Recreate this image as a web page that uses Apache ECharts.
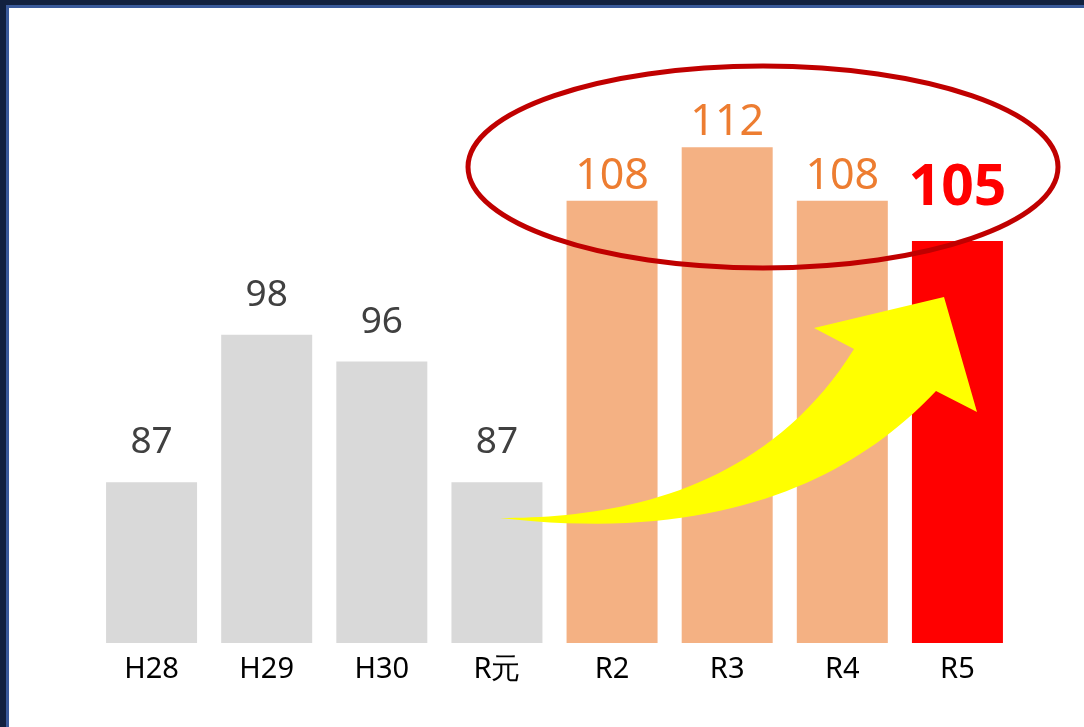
<!DOCTYPE html>
<html>
<head>
<meta charset="utf-8">
<script src="https://cdn.jsdelivr.net/npm/echarts@6/dist/echarts.min.js"></script>
<style>
html,body{margin:0;padding:0;background:#fff;}
#c{width:1084px;height:727px;}
</style>
</head>
<body>
<div id="c"></div>
<script>
const categories = ['H28','H29','H30','R元','R2','R3','R4','R5'];
const values = [87, 98, 96, 87, 108, 112, 108, 105];
const groups = ['past','past','past','past','recent','recent','recent','current'];

const groupStyle = {
  past:    {color:'#d9d9d9', label:{color:'#404040', fontSize:37, fontWeight:'normal', distance:21}},
  recent:  {color:'#f4b183', label:{color:'#ed7d31', fontSize:43, fontWeight:'normal', distance:3}},
  current: {color:'#ff0000', label:{color:'#ff0000', fontSize:57, fontWeight:'bold', distance:24}}
};

const FONT = '"Noto Sans", "DejaVu Sans", sans-serif';
const data = values.map((v,i)=>{
  const g = groupStyle[groups[i]];
  return {
    value: v,
    itemStyle: {color: g.color},
    label: Object.assign({show:true, position:'top', fontFamily: FONT}, g.label)
  };
});

// cubic bezier sampler for the decorative arrow outline
function cubic(p0,p1,p2,p3,n){
  const pts=[];
  for(let i=0;i<=n;i++){
    const t=i/n, u=1-t;
    pts.push([
      u*u*u*p0[0]+3*u*u*t*p1[0]+3*u*t*t*p2[0]+t*t*t*p3[0],
      u*u*u*p0[1]+3*u*u*t*p1[1]+3*u*t*t*p2[1]+t*t*t*p3[1]
    ]);
  }
  return pts;
}
const upper = cubic([500,518],[600,518],[760,500],[854,349],40);
const lower = cubic([936,391],[860,472],[730,545],[500,518],40);
const arrowPts = upper.concat([[814,328],[944,297],[977,412]], lower);

const chart = echarts.init(document.getElementById('c'), null, {renderer:'canvas'});
chart.setOption({
  backgroundColor:'#ffffff',
  animation:false,
  grid:{left:94, right:69, top:40, bottom:84},
  xAxis:{
    type:'category', data:categories,
    axisLine:{show:false}, axisTick:{show:false},
    axisLabel:{color:'#000000', fontSize:29, fontFamily:FONT, margin:12}
  },
  yAxis:{type:'value', min:75, max:120, show:false, splitLine:{show:false}},
  series:[{type:'bar', data:data, barWidth:91, z:2}],
  graphic:[
    {type:'rect', shape:{x:0,y:0,width:1084,height:6}, style:{fill:'#12213f'}, z:100, silent:true},
    {type:'rect', shape:{x:0,y:0,width:6,height:727}, style:{fill:'#12213f'}, z:100, silent:true},
    {type:'rect', shape:{x:6,y:5,width:1078,height:3}, style:{fill:'#3a5a9a'}, z:100, silent:true},
    {type:'rect', shape:{x:6,y:5,width:3,height:722}, style:{fill:'#3a5a9a'}, z:100, silent:true},
    {type:'polygon', z:50, silent:true, shape:{points:arrowPts}, style:{fill:'#ffff00'}},
    {type:'ellipse', z:60, silent:true,
     shape:{cx:763, cy:167, rx:295, ry:101},
     style:{fill:null, stroke:'#c00000', lineWidth:5}}
  ]
});
</script>
</body>
</html>
